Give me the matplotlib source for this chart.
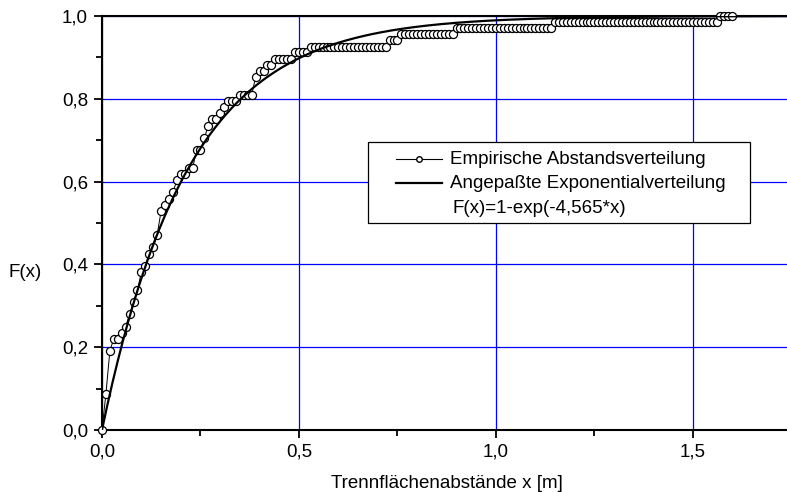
import matplotlib.pyplot as plt
import numpy as np
from matplotlib.lines import Line2D
from matplotlib.patches import Rectangle
from matplotlib.ticker import FuncFormatter, MultipleLocator

plt.rcParams['font.family'] = ['Liberation Sans', 'DejaVu Sans']

# empirical distribution, evaluated every 0.01 m from 0.00 to 1.60
x_emp = np.round(np.arange(0, 161) * 0.01, 2)
f_emp = [
    0.000, 0.088, 0.191, 0.221, 0.221, 0.235, 0.250, 0.279, 0.309, 0.338,   # 0.00-0.09
    0.382, 0.397, 0.426, 0.441, 0.471, 0.529, 0.544, 0.559, 0.574, 0.603,   # 0.10-0.19
    0.618, 0.618, 0.632, 0.632, 0.676, 0.676, 0.706, 0.735, 0.750, 0.750,   # 0.20-0.29
    0.765, 0.779, 0.794, 0.794, 0.794, 0.809, 0.809, 0.809, 0.809, 0.853,   # 0.30-0.39
    0.868, 0.868, 0.882, 0.882, 0.897, 0.897, 0.897, 0.897, 0.897, 0.912,   # 0.40-0.49
    0.912, 0.912, 0.912, 0.926, 0.926, 0.926, 0.926, 0.926, 0.926, 0.926,   # 0.50-0.59
    0.926, 0.926, 0.926, 0.926, 0.926, 0.926, 0.926, 0.926, 0.926, 0.926,   # 0.60-0.69
    0.926, 0.926, 0.926, 0.941, 0.941, 0.941, 0.956, 0.956, 0.956, 0.956,   # 0.70-0.79
    0.956, 0.956, 0.956, 0.956, 0.956, 0.956, 0.956, 0.956, 0.956, 0.956,   # 0.80-0.89
    0.971, 0.971, 0.971, 0.971, 0.971, 0.971, 0.971, 0.971, 0.971, 0.971,   # 0.90-0.99
    0.971, 0.971, 0.971, 0.971, 0.971, 0.971, 0.971, 0.971, 0.971, 0.971,   # 1.00-1.09
    0.971, 0.971, 0.971, 0.971, 0.971, 0.985, 0.985, 0.985, 0.985, 0.985,   # 1.10-1.19
    0.985, 0.985, 0.985, 0.985, 0.985, 0.985, 0.985, 0.985, 0.985, 0.985,   # 1.20-1.29
    0.985, 0.985, 0.985, 0.985, 0.985, 0.985, 0.985, 0.985, 0.985, 0.985,   # 1.30-1.39
    0.985, 0.985, 0.985, 0.985, 0.985, 0.985, 0.985, 0.985, 0.985, 0.985,   # 1.40-1.49
    0.985, 0.985, 0.985, 0.985, 0.985, 0.985, 0.985, 1.000, 1.000, 1.000,   # 1.50-1.59
    1.000,                                                                 # 1.60
]

# fitted exponential distribution F(x) = 1 - exp(-rate * x)
rate = 4.565
x_fit = np.linspace(0, 1.75, 400)
f_fit = 1 - np.exp(-rate * x_fit)

legend_labels = ['Empirische Abstandsverteilung', 'Angepaßte Exponentialverteilung',
                 'F(x)=1-exp(-4,565*x)']

FS = 13.5

fig = plt.figure(figsize=(7.87, 4.92), dpi=100)
ax = fig.add_axes([0.1296, 0.126, 0.876, 0.8415])

ax.plot(x_emp, f_emp, color='black', linewidth=0.7, marker='o', markersize=5.8,
        markerfacecolor='white', markeredgecolor='black', markeredgewidth=0.9,
        clip_on=False, zorder=3)
ax.plot(x_fit, f_fit, color='black', linewidth=1.6, zorder=4)

ax.set_xlim(0, 1.75)
ax.set_ylim(0, 1.0)
ax.xaxis.set_major_locator(MultipleLocator(0.5))
ax.xaxis.set_minor_locator(MultipleLocator(0.25))
ax.yaxis.set_major_locator(MultipleLocator(0.2))
ax.yaxis.set_minor_locator(MultipleLocator(0.1))
comma = FuncFormatter(lambda v, pos: f'{v:.1f}'.replace('.', ','))
ax.xaxis.set_major_formatter(comma)
ax.yaxis.set_major_formatter(comma)

ax.grid(True, which='major', color='#0000ff', linewidth=0.9)
ax.set_axisbelow(True)
for side in ['top', 'left', 'bottom', 'right']:
    ax.spines[side].set_linewidth(1.5)
ax.tick_params(which='major', direction='out', length=6, width=1.3, labelsize=FS, pad=4)
ax.tick_params(which='minor', direction='out', length=4, width=1.3)

ax.set_xlabel('Trennflächenabstände x [m]', fontsize=FS, labelpad=10)
fig.text(0.032, 0.447, 'F(x)', fontsize=FS, ha='center', va='center')

# legend box drawn by hand (wide side padding like the original)
tr = ax.transAxes
ax.add_patch(Rectangle((0.386, 0.500), 0.554, 0.196, transform=tr, facecolor='white',
                       edgecolor='black', linewidth=0.9, zorder=5))
rows = [0.654, 0.596, 0.536]
ax.add_line(Line2D([0.426, 0.493], [rows[0], rows[0]], transform=tr, color='black',
                   linewidth=0.8, zorder=6))
ax.add_line(Line2D([0.4595], [rows[0]], transform=tr, marker='o', markersize=4,
                   markerfacecolor='white', markeredgecolor='black', zorder=7))
ax.add_line(Line2D([0.426, 0.493], [rows[1], rows[1]], transform=tr, color='black',
                   linewidth=1.6, zorder=6))
ax.text(0.505, rows[0], legend_labels[0], transform=tr, fontsize=FS, va='center', zorder=6)
ax.text(0.505, rows[1], legend_labels[1], transform=tr, fontsize=FS, va='center', zorder=6)
ax.text(0.509, rows[2], legend_labels[2], transform=tr, fontsize=FS, va='center', zorder=6)

fig.savefig('out.png', dpi=100)
